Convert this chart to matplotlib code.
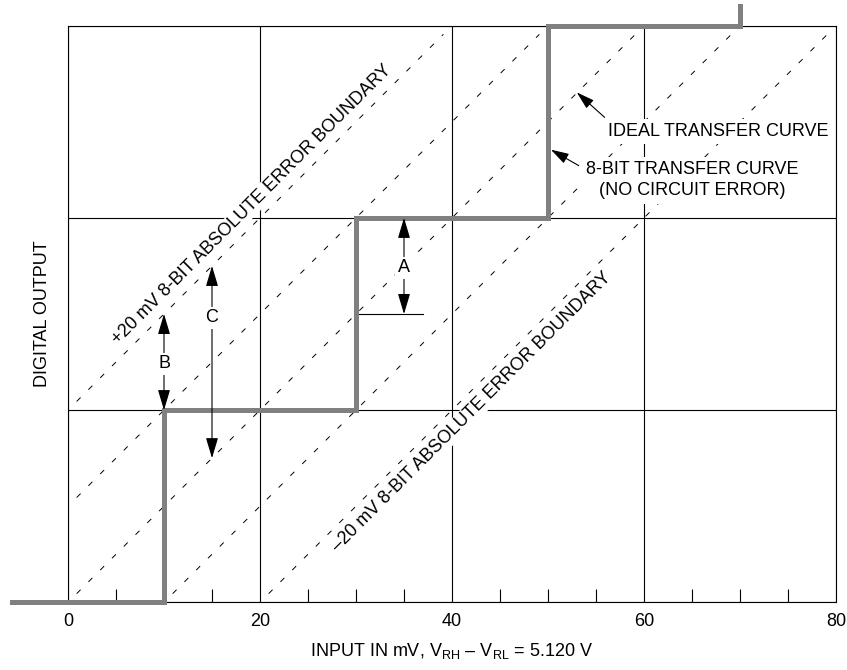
import numpy as np
import matplotlib
matplotlib.use('Agg')
import matplotlib.pyplot as plt

plt.rcParams['font.family'] = ['Liberation Sans Narrow', 'Liberation Sans', 'DejaVu Sans']
plt.rcParams['mathtext.fontset'] = 'custom'
plt.rcParams['mathtext.rm'] = 'Liberation Sans'
plt.rcParams['lines.scale_dashes'] = False

# 8-bit transfer curve (no circuit error): input mV -> output code
step_x = [-5.8, 10, 10, 30, 30, 50, 50, 70, 70]
step_y = [0, 0, 1, 1, 2, 2, 3, 3, 3.1]

# dashed diagonals, given by their x-intercept in mV (one code per 20 mV)
diag_offsets = [-20, -10, 0, 10, 20]
lsb_mv = 20
n_codes = 3

xticks_major = [0, 20, 40, 60, 80]
xticks_minor = [5, 10, 15, 25, 30, 35, 45, 50, 55, 65, 70, 75]

# dimension arrows A, B, C: x, y_from, y_to, label y
dim_names = ['A', 'B', 'C']
dim_x = [35, 10, 15]
dim_y0 = [1.5, 1.0, 0.75]
dim_y1 = [2.0, 1.5, 1.75]
dim_label_y = [1.74, 1.24, 1.48]

fig = plt.figure(figsize=(8.47, 6.70), dpi=100)
ax = fig.add_axes([68 / 847, 1 - 602.3 / 670, 768 / 847, 576.6 / 670])
ax.set_xlim(0, 80)
ax.set_ylim(0, 3)

# grid
ax.set_xticks(xticks_major)
ax.set_xticks(xticks_minor, minor=True)
ax.set_yticks([0, 1, 2, 3])
ax.set_yticklabels([])
ax.grid(True, color='black', linewidth=0.8, zorder=1)
ax.tick_params(axis='x', which='major', length=0, pad=8, labelsize=13)
ax.tick_params(axis='x', which='minor', direction='in', length=9.5, width=0.8, color='black')
ax.tick_params(axis='y', length=0)
for s in ax.spines.values():
    s.set_linewidth(0.8)
ax.set_axisbelow(True)

# dashed diagonals
for x0 in diag_offsets:
    xa = max(0, x0) + 0.9
    xb = min(80, x0 + n_codes * lsb_mv) - 0.9
    xs = np.array([xa, xb])
    ax.plot(xs, (xs - x0) / lsb_mv, color='black', linewidth=0.7,
            dashes=(4, 8), zorder=2)

# step curve
ax.plot(step_x, step_y, color='#808080', linewidth=3.6, clip_on=False,
        solid_joinstyle='miter', zorder=4)

# dimension arrows
arrow_style = '<|-|>,head_length=0.9,head_width=0.27'
for name, x, y0, y1, ly in zip(dim_names, dim_x, dim_y0, dim_y1, dim_label_y):
    ax.annotate('', xy=(x, y1), xytext=(x, y0),
                arrowprops=dict(arrowstyle=arrow_style, color='black', lw=0.8,
                                shrinkA=0, shrinkB=0, mutation_scale=14),
                zorder=5)
    ax.text(x, ly, name, ha='center', va='center', fontsize=13, zorder=6,
            bbox=dict(facecolor='white', edgecolor='none', pad=2))
ax.plot([30, 37], [1.5, 1.5], color='black', linewidth=0.8, zorder=3)

# boundary labels
ax.text(19.2, 2.07, '+20 mV 8-BIT ABSOLUTE ERROR BOUNDARY', rotation=45,
        rotation_mode='anchor', ha='center', va='center', fontsize=13, zorder=3,
        bbox=dict(facecolor='white', edgecolor='none', pad=1))
ax.text(42.1, 0.99, '\u201320 mV 8-BIT ABSOLUTE ERROR BOUNDARY', rotation=45,
        rotation_mode='anchor', ha='center', va='center', fontsize=13, zorder=3,
        bbox=dict(facecolor='white', edgecolor='none', pad=1))

# callouts
call_style = '-|>,head_length=1.0,head_width=0.3'
ax.annotate('', xy=(53.0, 2.653), xytext=(55.9, 2.523),
            arrowprops=dict(arrowstyle=call_style, color='black', lw=0.8,
                            shrinkA=0, shrinkB=0, mutation_scale=11))
ax.text(56.3, 2.45, 'IDEAL TRANSFER CURVE', ha='left', va='center', fontsize=13,
        zorder=6, bbox=dict(facecolor='white', edgecolor='none', pad=3))
ax.annotate('', xy=(50.3, 2.355), xytext=(53.2, 2.272),
            arrowprops=dict(arrowstyle=call_style, color='black', lw=0.8,
                            shrinkA=0, shrinkB=0, mutation_scale=11))
ax.text(65.0, 2.195, '8-BIT TRANSFER CURVE\n(NO CIRCUIT ERROR)', ha='center',
        va='center', fontsize=13, linespacing=1.3, zorder=6,
        bbox=dict(facecolor='white', edgecolor='none', pad=3))

# axis labels
ax.text(0.5, -0.084, 'INPUT IN mV, V$_{\\mathrm{RH}}$ \u2013 V$_{\\mathrm{RL}}$ = 5.120 V',
        transform=ax.transAxes, ha='center', va='center', fontsize=13)
ax.text(-0.0326, 0.5, 'DIGITAL OUTPUT', transform=ax.transAxes, rotation=90,
        ha='center', va='center', fontsize=13)

fig.savefig('out.png', dpi=100)
